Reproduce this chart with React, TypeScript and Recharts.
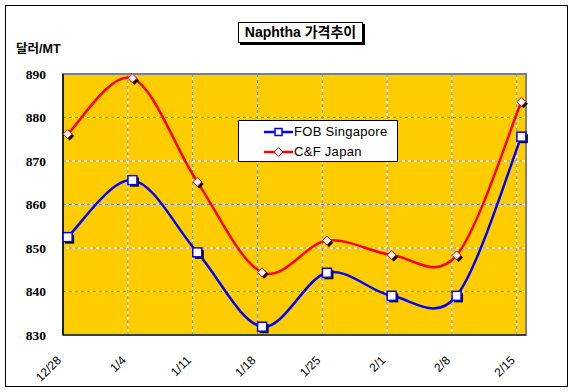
import React from 'react';
import { LineChart, Line, XAxis, YAxis, CartesianGrid, Legend, ReferenceArea } from 'recharts';

const categories = ['12/28', '1/4', '1/11', '1/18', '1/25', '2/1', '2/8', '2/15'];
const fobSingapore = [852.5, 865.6, 849.0, 831.9, 844.3, 839.0, 839.0, 875.6];
const cfJapan = [876.2, 889.0, 865.2, 844.4, 851.7, 848.4, 848.3, 883.6];
const dayOffsets = [0, 7, 14, 21, 28, 35, 42, 49];
const yTicks = [830, 840, 850, 860, 870, 880, 890];

const data = categories.map((c, i) => ({
  label: c,
  x: dayOffsets[i] + 0.5,
  fob: fobSingapore[i],
  cf: cfJapan[i],
}));

// Excel-like smoothed line (Catmull-Rom as cubic Bezier, tension 1/6)
const excelCurve = (context: any) => {
  let pts: number[][] = [];
  return {
    areaStart() {},
    areaEnd() {},
    lineStart() {
      pts = [];
    },
    point(x: number, y: number) {
      pts.push([+x, +y]);
    },
    lineEnd() {
      const n = pts.length;
      if (!n) return;
      context.moveTo(pts[0][0], pts[0][1]);
      for (let i = 0; i < n - 1; i++) {
        const p0 = pts[i - 1] || pts[i];
        const p1 = pts[i];
        const p2 = pts[i + 1];
        const p3 = pts[i + 2] || pts[i + 1];
        const c1x = p1[0] + (p2[0] - p0[0]) / 6;
        const c1y = p1[1] + (p2[1] - p0[1]) / 6;
        const c2x = p2[0] - (p3[0] - p1[0]) / 6;
        const c2y = p2[1] - (p3[1] - p1[1]) / 6;
        context.bezierCurveTo(c1x, c1y, c2x, c2y, p2[0], p2[1]);
      }
    },
  };
};

const SquareDot = (props: any) => {
  const { cx, cy, index } = props;
  if (cx == null || cy == null) return <g key={`sq${index}`} />;
  return (
    <g key={`sq${index}`}>
      <rect x={cx - 2.5} y={cy - 2.5} width={9} height={9} fill="#000" />
      <rect x={cx - 4.5} y={cy - 4.5} width={9} height={9} fill="#fff" stroke="#0000ff" strokeWidth={1.5} />
    </g>
  );
};

const DiamondDot = (props: any) => {
  const { cx, cy, index } = props;
  if (cx == null || cy == null) return <g key={`dm${index}`} />;
  const r = 4.5;
  const pts = (dx: number, dy: number) =>
    `${cx + dx},${cy + dy - r} ${cx + dx + r},${cy + dy} ${cx + dx},${cy + dy + r} ${cx + dx - r},${cy + dy}`;
  return (
    <g key={`dm${index}`}>
      <polygon points={pts(2, 2)} fill="#000" />
      <polygon points={pts(0, 0)} fill="#fff" stroke="#ff0000" strokeWidth={1} />
    </g>
  );
};

const XTick = (props: any) => {
  const { x, y, payload } = props;
  const idx = dayOffsets.indexOf(payload.value);
  const text = idx >= 0 ? categories[idx] : '';
  return (
    <text
      transform={`translate(${x - 1},${y + 24}) rotate(-45)`}
      textAnchor="end"
      fontSize={12}
      fontFamily='"Liberation Sans", Arial, sans-serif'
      fill="#000"
    >
      {text}
    </text>
  );
};

const LegendBox = () => (
  <div
    style={{
      width: 160,
      height: 42,
      border: '1px solid #000',
      background: '#fff',
      boxSizing: 'border-box',
      position: 'relative',
      fontFamily: '"Liberation Sans", Arial, sans-serif',
      fontSize: 13,
      letterSpacing: '0.3px',
      color: '#000',
    }}
  >
    {[
      { name: 'FOB Singapore', color: '#0000ff', shape: 'square', cy: 11 },
      { name: 'C&F Japan', color: '#ff0000', shape: 'diamond', cy: 31 },
    ].map((e) => (
      <div key={e.name} style={{ position: 'absolute', left: 0, top: e.cy - 8, height: 16, width: 158 }}>
        <svg width={32} height={16} style={{ position: 'absolute', left: 24, top: 0 }}>
          <line x1={1} y1={8} x2={30} y2={8} stroke={e.color} strokeWidth={2.5} />
          {e.shape === 'square' ? (
            <rect x={12} y={4.5} width={7} height={7} fill="#fff" stroke={e.color} strokeWidth={1.5} />
          ) : (
            <polygon points="15.5,3.5 20,8 15.5,12.5 11,8" fill="#fff" stroke={e.color} strokeWidth={1} />
          )}
        </svg>
        <span style={{ position: 'absolute', left: 55, top: 0, lineHeight: '16px', whiteSpace: 'nowrap' }}>{e.name}</span>
      </div>
    ))}
  </div>
);

export default function App() {
  return (
    <div style={{ position: 'absolute', left: 0, top: 0, width: 573, height: 392, background: '#fff' }}>
      <LineChart width={573} height={392} data={data} margin={{ top: 74, right: 47, bottom: 5, left: 5 }}>
        <CartesianGrid fill="#FFCC00" stroke="#ffffff" strokeWidth={1} />
        <CartesianGrid stroke="#808080" strokeDasharray="3 3" strokeWidth={1} />
        <ReferenceArea x1={0} x2={50} y1={830} y2={890} fill="none" stroke="#808080" strokeWidth={2} ifOverflow="visible" />
        <XAxis
          dataKey="x"
          type="number"
          domain={[0, 50]}
          ticks={dayOffsets}
          interval={0}
          height={52}
          tick={<XTick />}
          tickLine={false}
          tickSize={0}
          axisLine={{ stroke: '#000', strokeWidth: 1 }}
        />
        <YAxis
          type="number"
          domain={[830, 890]}
          ticks={yTicks}
          interval={0}
          width={58}
          tickLine={false}
          tickSize={0}
          tickMargin={17}
          axisLine={{ stroke: '#000', strokeWidth: 1.5 }}
          tick={{ fontSize: 13.5, fontWeight: 'bold', fontFamily: '"Liberation Serif", "Times New Roman", serif', fill: '#000' }}
        />
        <Legend
          layout="vertical"
          align="center"
          verticalAlign="middle"
          content={<LegendBox />}
          wrapperStyle={{ left: 238, top: 120, width: 160, height: 42 }}
        />
        <Line
          type={excelCurve as any}
          dataKey="fob"
          name="FOB Singapore"
          stroke="#0000ff"
          strokeWidth={2.5}
          dot={SquareDot}
          activeDot={false}
          isAnimationActive={false}
        />
        <Line
          type={excelCurve as any}
          dataKey="cf"
          name="C&F Japan"
          stroke="#ff0000"
          strokeWidth={2.5}
          dot={DiamondDot}
          activeDot={false}
          isAnimationActive={false}
        />
      </LineChart>
      <div
        style={{
          position: 'absolute',
          left: 238,
          top: 22,
          width: 125,
          height: 21,
          border: '1px solid #000',
          boxShadow: '2px 2px 0 #000',
          background: '#fff',
          boxSizing: 'border-box',
          fontFamily: '"Liberation Sans", "Noto Sans CJK KR", sans-serif',
          fontWeight: 'bold',
          fontSize: 14,
          lineHeight: '19px',
          textAlign: 'center',
          color: '#000',
          whiteSpace: 'nowrap',
        }}
      >
        Naphtha 가격추이
      </div>
      <div
        style={{
          position: 'absolute',
          left: 16,
          top: 42,
          fontFamily: '"Liberation Sans", "Noto Sans CJK KR", sans-serif',
          fontWeight: 'bold',
          fontSize: 12.5,
          lineHeight: '14px',
          color: '#000',
          whiteSpace: 'nowrap',
        }}
      >
        달러/MT
      </div>
      <div
        style={{
          position: 'absolute',
          left: 5,
          top: 5,
          width: 563,
          height: 382,
          border: '1px solid #000',
          boxSizing: 'border-box',
          pointerEvents: 'none',
        }}
      />
    </div>
  );
}
